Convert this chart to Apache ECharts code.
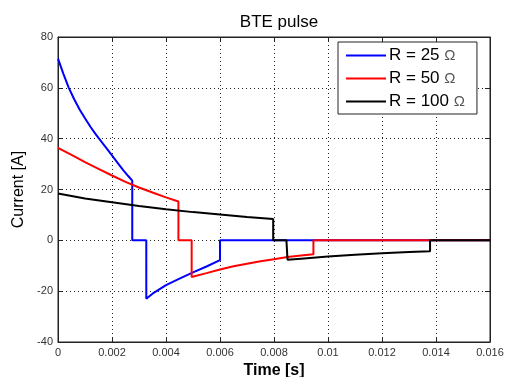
<!DOCTYPE html>
<html>
<head>
<meta charset="utf-8">
<script src="https://cdn.jsdelivr.net/npm/echarts@6/dist/echarts.min.js"></script>
<style>
html, body { margin: 0; padding: 0; background: #fff; }
#main { width: 505px; height: 377px; }
</style>
</head>
<body>
<div id="main"></div>
<script>
// values: time [s] and current [A]
var seriesNames = ['R = 25 Ω', 'R = 50 Ω', 'R = 100 Ω'];
var seriesColors = ['#0000ff', '#ff0000', '#000000'];

var r25Time = [0, 0.0002, 0.0004, 0.0006, 0.0008, 0.001, 0.0012, 0.0014, 0.0016, 0.0018, 0.002, 0.0022, 0.0024, 0.0026, 0.00275,
    0.00275, 0.00327, 0.00327, 0.0035, 0.004, 0.0045, 0.005, 0.0055, 0.006, 0.006, 0.016];
var r25Current = [71.5, 65.5, 60, 55.5, 51.5, 48, 44.7, 41.7, 38.9, 36.2, 33.4, 30.6, 27.8, 25.3, 23.5,
    0, 0, -23, -21, -17.6, -15.1, -12.6, -10.3, -7.8, 0, 0];

var r50Time = [0, 0.0005, 0.001, 0.0015, 0.002, 0.0025, 0.003, 0.0035, 0.004, 0.00446,
    0.00446, 0.00495, 0.00495, 0.0055, 0.006, 0.0065, 0.007, 0.0075, 0.008, 0.0085, 0.009, 0.00946, 0.00946, 0.016];
var r50Current = [36.4, 33.6, 30.8, 28.1, 25.5, 23, 20.8, 18.8, 16.9, 15.3,
    0, 0, -14.4, -12.9, -11.5, -10.2, -9.2, -8.2, -7.4, -6.6, -6, -5.5, 0, 0];

var r100Time = [0, 0.001, 0.002, 0.003, 0.004, 0.005, 0.006, 0.007, 0.00797,
    0.00797, 0.00846, 0.0085, 0.009, 0.01, 0.011, 0.012, 0.013, 0.01378, 0.01378, 0.016];
var r100Current = [18.4, 16.5, 15, 13.5, 12.2, 11.1, 10.2, 9.2, 8.4,
    0, 0, -7.6, -7.2, -6.4, -5.7, -5.1, -4.6, -4.3, 0, 0];

function pairs(t, v) {
    var out = [];
    for (var i = 0; i < t.length; i++) out.push([t[i], v[i]]);
    return out;
}

var chart = echarts.init(document.getElementById('main'));
var font = 'Liberation Sans, Arial, sans-serif';
var dotted = { type: [1, 3], color: '#222', width: 1 };
var frame = { show: true, onZero: false, lineStyle: { color: '#222' } };
var tick = { show: true, inside: true, length: 5, lineStyle: { color: '#222' } };

var allData = [pairs(r25Time, r25Current), pairs(r50Time, r50Current), pairs(r100Time, r100Current)];

var option = {
    animation: false,
    backgroundColor: '#fff',
    title: {
        text: 'BTE pulse',
        left: 274,
        textAlign: 'center',
        top: 9,
        textStyle: { fontFamily: font, fontSize: 17, fontWeight: 'normal', color: '#000' }
    },
    legend: {
        data: seriesNames,
        orient: 'vertical',
        left: 338,
        top: 42,
        padding: [5, 12, 4, 8],
        itemGap: 6,
        itemWidth: 40,
        itemHeight: 2,
        icon: 'rect',
        backgroundColor: '#fff',
        borderColor: '#222',
        borderWidth: 1,
        formatter: function (name) {
            return name.replace(' Ω', '') + ' {o|Ω}';
        },
        textStyle: {
            fontFamily: font, fontSize: 17, color: '#000', padding: [0, 0, 0, -2],
            rich: { o: { fontFamily: font, fontSize: 15, color: '#555' } }
        }
    },
    grid: {
        left: 58, right: 15, top: 37, bottom: 35,
        outerBoundsMode: 'none',
        show: true, borderColor: '#222', borderWidth: 1
    },
    xAxis: [{
        type: 'value', min: 0, max: 0.016, interval: 0.002,
        name: 'Time [s]', nameLocation: 'middle', nameGap: 20,
        nameTextStyle: { fontFamily: font, fontSize: 16, fontWeight: 'bold', color: '#000' },
        axisLine: frame,
        axisTick: tick,
        axisLabel: { fontFamily: font, fontSize: 11, color: '#333', margin: 5 },
        splitLine: { show: true, lineStyle: dotted }
    }, {
        type: 'value', min: 0, max: 0.016, interval: 0.002, position: 'top',
        axisLine: frame,
        axisTick: tick,
        axisLabel: { show: false },
        splitLine: { show: false }
    }],
    yAxis: [{
        type: 'value', min: -40, max: 80, interval: 20,
        name: 'Current [A]', nameLocation: 'middle', nameGap: 27,
        nameTextStyle: { fontFamily: font, fontSize: 16, color: '#000' },
        axisLine: frame,
        axisTick: tick,
        axisLabel: { fontFamily: font, fontSize: 11, color: '#333', margin: 5 },
        splitLine: { show: true, lineStyle: dotted }
    }, {
        type: 'value', min: -40, max: 80, interval: 20, position: 'right',
        axisLine: frame,
        axisTick: tick,
        axisLabel: { show: false },
        splitLine: { show: false }
    }],
    series: seriesNames.map(function (name, i) {
        return {
            name: name,
            type: 'line',
            data: allData[i],
            showSymbol: false,
            symbol: 'none',
            color: seriesColors[i],
            lineStyle: { color: seriesColors[i], width: 2 },
            z: 2 + i
        };
    })
};

if (option && typeof option === 'object') {
    chart.setOption(option);
}
</script>
</body>
</html>
